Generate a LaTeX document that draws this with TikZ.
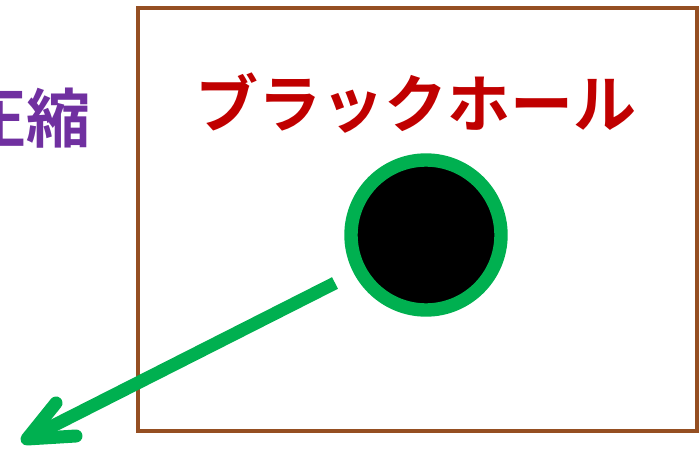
\documentclass[tikz,border=0pt]{standalone}
\usepackage{fontspec}
\newfontfamily\cjk{Noto Sans CJK JP Bold}
\definecolor{framebrown}{HTML}{954F22}
\definecolor{ringgreen}{HTML}{00B050}
\definecolor{titlered}{HTML}{C00000}
\definecolor{labelpurple}{HTML}{7030A0}
\tikzset{
  frame/.style={draw=framebrown,line width=4.5pt},
  hole/.style={circle,fill=black,draw=ringgreen,line width=13.4pt,minimum size=150pt,inner sep=0pt},
  arrowline/.style={draw=ringgreen,line width=13pt},
  title/.style={text=titlered,font=\cjk\fontsize{63}{63}\selectfont,inner sep=0pt},
  label/.style={text=labelpurple,font=\cjk\fontsize{64}{64}\selectfont,inner sep=0pt}
}
\begin{document}
\begin{tikzpicture}[x=1pt,y=-1pt]
\useasboundingbox (0,0) rectangle (699,449);
\draw[frame] (138,8) rectangle (697,431);
\node[title] (t) at (416,103) {ブラックホール};
\node[label,anchor=east] (c) at (91,118) {圧縮};
\node[hole] (bh) at (426,235) {};
\coordinate (s) at (335,283);
\coordinate (tip) at (27,439);
\coordinate (a1) at (56,403);
\coordinate (a2) at (76,436);
\draw[arrowline,line cap=butt] (s) -- (tip);
\draw[arrowline,line cap=round,line join=round] (a1) -- (tip) -- (a2);
\end{tikzpicture}
\end{document}
